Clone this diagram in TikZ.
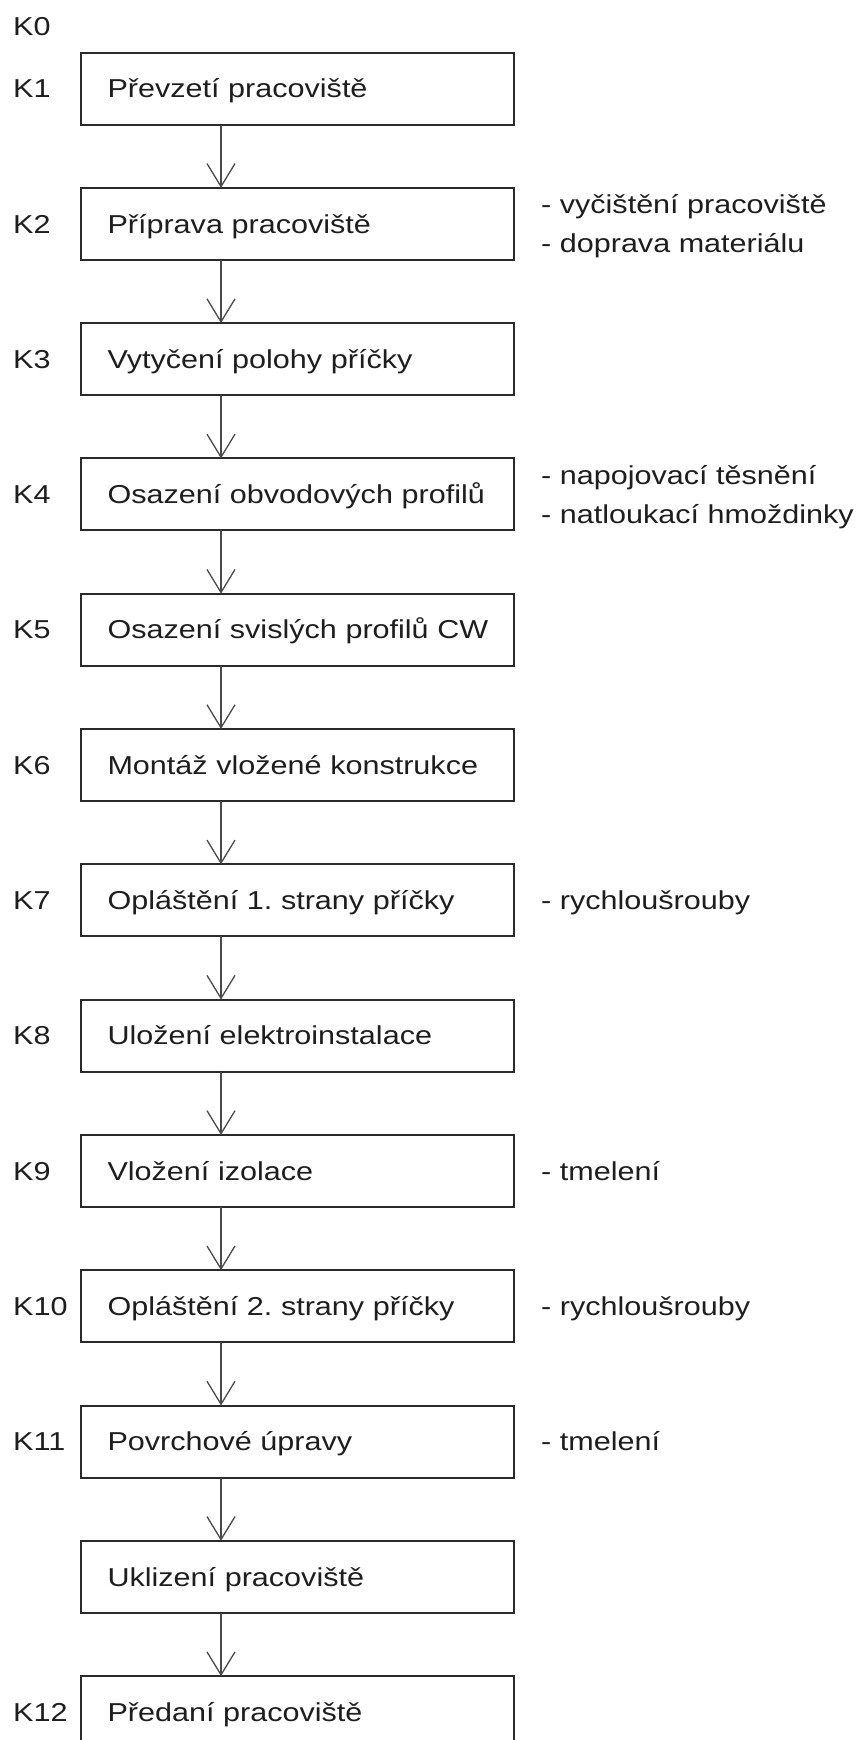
\documentclass[tikz,border=0pt]{standalone}
\usepackage{fontspec}
\setmainfont{Liberation Sans}[FakeStretch=1.18]
\usetikzlibrary{arrows.meta}
\definecolor{inkcol}{HTML}{1E1E1E}
\definecolor{boxcol}{HTML}{2A2A2A}
\definecolor{arrcol}{HTML}{4A4A4A}
\frenchspacing
\begin{document}
\begin{tikzpicture}[x=1pt,y=-1pt,
  txt/.style={font=\fontsize{25.9pt}{31pt}\selectfont, text=inkcol},
  stepbox/.style={txt, draw=boxcol, line width=2pt, outer sep=0pt,
    minimum width=433pt, minimum height=72pt, text width=433pt,
    inner xsep=0pt, inner ysep=0pt, align=left,
    execute at begin node={\hspace*{26.5pt}},
    text height=18.5pt, text depth=0pt},
  klabel/.style={txt, anchor=west, inner sep=0pt, text height=18.5pt, text depth=0pt},
  sidetext/.style={txt, anchor=west, inner sep=0pt, text height=18.5pt, text depth=0pt},
  flow/.style={draw=arrcol, line width=1.3pt, -{Straight Barb[length=23pt,width=28pt]}}
]
\clip (0,0) rectangle (857,1740);
\fill[white] (0,0) rectangle (857,1740);

% steps
\node[stepbox] (b0)  at (297.5, 88.5)   {Převzetí pracoviště};
\node[stepbox] (b1)  at (297.5, 223.8)  {Příprava pracoviště};
\node[stepbox] (b2)  at (297.5, 359.1)  {Vytyčení polohy příčky};
\node[stepbox] (b3)  at (297.5, 494.4)  {Osazení obvodových profilů};
\node[stepbox] (b4)  at (297.5, 629.7)  {Osazení svislých profilů CW};
\node[stepbox] (b5)  at (297.5, 765.0)  {Montáž vložené konstrukce};
\node[stepbox] (b6)  at (297.5, 900.3)  {Opláštění 1. strany příčky};
\node[stepbox] (b7)  at (297.5, 1035.6) {Uložení elektroinstalace};
\node[stepbox] (b8)  at (297.5, 1170.9) {Vložení izolace};
\node[stepbox] (b9)  at (297.5, 1306.2) {Opláštění 2. strany příčky};
\node[stepbox] (b10) at (297.5, 1441.5) {Povrchové úpravy};
\node[stepbox] (b11) at (297.5, 1576.8) {Uklizení pracoviště};
\node[stepbox] (b12) at (297.5, 1712.1) {Předaní pracoviště};

% K labels
\node[klabel] (k0)  at (13, 26)     {K0};
\node[klabel] (k1)  at (13, 88.5)   {K1};
\node[klabel] (k2)  at (13, 223.8)  {K2};
\node[klabel] (k3)  at (13, 359.1)  {K3};
\node[klabel] (k4)  at (13, 494.4)  {K4};
\node[klabel] (k5)  at (13, 629.7)  {K5};
\node[klabel] (k6)  at (13, 765.0)  {K6};
\node[klabel] (k7)  at (13, 900.3)  {K7};
\node[klabel] (k8)  at (13, 1035.6) {K8};
\node[klabel] (k9)  at (13, 1170.9) {K9};
\node[klabel] (k10) at (13, 1306.2) {K10};
\node[klabel] (k11) at (13, 1441.5) {K11};
\node[klabel] (k12) at (13, 1712.1) {K12};

% side notes
\node[sidetext] (s2a)  at (541, 204.3)  {- vyčištění pracoviště};
\node[sidetext] (s2b)  at (541, 243.3)  {- doprava materiálu};
\node[sidetext] (s4a)  at (541, 474.9)  {- napojovací těsnění};
\node[sidetext] (s4b)  at (541, 513.9)  {- natloukací hmoždinky};
\node[sidetext] (s7)   at (541, 900.3)  {- rychloušrouby};
\node[sidetext] (s9)   at (541, 1170.9) {- tmelení};
\node[sidetext] (s10)  at (541, 1306.2) {- rychloušrouby};
\node[sidetext] (s11)  at (541, 1441.5) {- tmelení};

% connectors
\foreach \a/\b in {b0/b1,b1/b2,b2/b3,b3/b4,b4/b5,b5/b6,b6/b7,b7/b8,b8/b9,b9/b10,b10/b11,b11/b12}
  \draw[flow] ([xshift=-76.5pt]\a.south) -- ([xshift=-76.5pt]\b.north);
\end{tikzpicture}
\end{document}
